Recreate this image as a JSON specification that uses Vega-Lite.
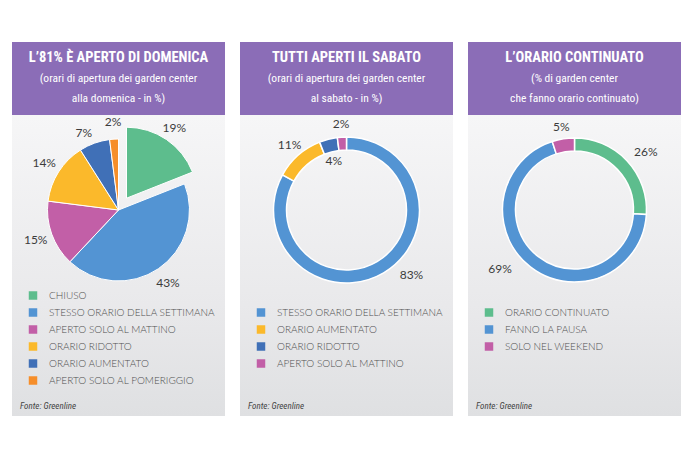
{
  "$schema": "https://vega.github.io/schema/vega-lite/v6.json",
  "padding": {"left": 12, "top": 42, "right": 0, "bottom": 0},
  "background": "white",
  "spacing": 15,
  "config": {"view": {"stroke": null}, "font": "Lato"},
  "resolve": {"scale": {"color": "independent"}},
  "datasets": {
    "titoli_domenica": [
      {"riga": 1, "testo": "L’81% È APERTO DI DOMENICA"},
      {"riga": 2, "testo": "(orari di apertura dei garden center"},
      {"riga": 3, "testo": "alla domenica - in %)"}
    ],
    "titoli_sabato": [
      {"riga": 1, "testo": "TUTTI APERTI IL SABATO"},
      {"riga": 2, "testo": "(orari di apertura dei garden center"},
      {"riga": 3, "testo": "al sabato - in %)"}
    ],
    "titoli_continuato": [
      {"riga": 1, "testo": "L’ORARIO CONTINUATO"},
      {"riga": 2, "testo": "(% di garden center"},
      {"riga": 3, "testo": "che fanno orario continuato)"}
    ],
    "domenica": [
      {"voce": "CHIUSO", "quota": 0.19},
      {"voce": "STESSO ORARIO DELLA SETTIMANA", "quota": 0.43},
      {"voce": "APERTO SOLO AL MATTINO", "quota": 0.15},
      {"voce": "ORARIO RIDOTTO", "quota": 0.14},
      {"voce": "ORARIO AUMENTATO", "quota": 0.07},
      {"voce": "APERTO SOLO AL POMERIGGIO", "quota": 0.02}
    ],
    "sabato": [
      {"voce": "STESSO ORARIO DELLA SETTIMANA", "quota": 0.83},
      {"voce": "ORARIO AUMENTATO", "quota": 0.11},
      {"voce": "ORARIO RIDOTTO", "quota": 0.04},
      {"voce": "APERTO SOLO AL MATTINO", "quota": 0.02}
    ],
    "continuato": [
      {"voce": "ORARIO CONTINUATO", "quota": 0.26},
      {"voce": "FANNO LA PAUSA", "quota": 0.69},
      {"voce": "SOLO NEL WEEKEND", "quota": 0.05}
    ],
    "sfondo": [{}]
  },
  "hconcat": [
    {
      "spacing": 0,
      "bounds": "flush",
      "vconcat": [
        {
          "width": 213, "height": 73,
          "view": {"fill": "#8b6db7", "stroke": null},
          "data": {"name": "titoli_domenica"},
          "layer": [
            {"transform": [{"filter": "datum.riga === 1"}],
             "mark": {"type": "text", "font": "Roboto Condensed, Liberation Sans Narrow, DejaVu Sans Condensed, Open Sans", "fontSize": 14.5, "fontWeight": "bold", "color": "white", "baseline": "middle"},
             "encoding": {"y": {"field": "riga", "type": "ordinal", "scale": {"type": "point", "padding": 0.74}, "axis": null}, "text": {"field": "testo"}}},
            {"transform": [{"filter": "datum.riga > 1"}],
             "mark": {"type": "text", "font": "Roboto Condensed, Liberation Sans Narrow, DejaVu Sans Condensed, Open Sans", "fontSize": 11.5, "color": "white", "baseline": "middle"},
             "encoding": {"y": {"field": "riga", "type": "ordinal", "scale": {"type": "point", "padding": 0.74}, "axis": null}, "text": {"field": "testo"}}}
          ]
        },
        {
          "width": 213, "height": 190,
          "layer": [
            {"data": {"name": "sfondo"},
             "mark": {"type": "rect", "fill": {"gradient": "linear", "x1": 0, "y1": 0, "x2": 0, "y2": 1, "stops": [{"offset": 0, "color": "#f6f6f7"}, {"offset": 1, "color": "#e9e9eb"}]}},
             "encoding": {}},
            {"data": {"name": "domenica"},
             "transform": [{"window": [{"op": "row_number", "as": "ordine"}]}],
             "mark": {"type": "arc", "outerRadius": 71, "stroke": "white", "strokeWidth": 1},
             "encoding": {
               "theta": {"field": "quota", "type": "quantitative", "stack": true},
               "order": {"field": "ordine", "type": "quantitative"},
               "opacity": {"condition": {"test": "datum.voce === 'CHIUSO'", "value": 0}, "value": 1},
               "color": {"field": "voce", "type": "nominal",
                 "scale": {"domain": ["CHIUSO", "STESSO ORARIO DELLA SETTIMANA", "APERTO SOLO AL MATTINO", "ORARIO RIDOTTO", "ORARIO AUMENTATO", "APERTO SOLO AL POMERIGGIO"], "range": ["#5dbd8d", "#5394d3", "#c25fa7", "#fbb92b", "#4070b7", "#f68e2a"]},
                 "legend": {"orient": "none", "legendX": 16, "legendY": 248.5, "title": null, "symbolType": "square", "symbolSize": 72, "symbolStrokeWidth": 0, "symbolOpacity": 1, "labelFont": "Lato", "labelFontSize": 10, "labelFontWeight": 300, "labelColor": "#505050", "rowPadding": 7, "labelOffset": 11, "padding": 0, "labelLimit": 300}}
             }},
            {"data": {"name": "domenica"},
             "transform": [{"window": [{"op": "row_number", "as": "ordine"}]}, {"filter": "datum.voce === 'CHIUSO'"}],
             "mark": {"type": "arc", "outerRadius": 71, "stroke": "white", "strokeWidth": 1, "xOffset": 8, "yOffset": -11.8},
             "encoding": {
               "theta": {"field": "quota", "type": "quantitative", "stack": true},
               "order": {"field": "ordine", "type": "quantitative"},
               "color": {"field": "voce", "type": "nominal",
                 "scale": {"domain": ["CHIUSO", "STESSO ORARIO DELLA SETTIMANA", "APERTO SOLO AL MATTINO", "ORARIO RIDOTTO", "ORARIO AUMENTATO", "APERTO SOLO AL POMERIGGIO"], "range": ["#5dbd8d", "#5394d3", "#c25fa7", "#fbb92b", "#4070b7", "#f68e2a"]},
                 "legend": {"orient": "none", "legendX": 16, "legendY": 248.5, "title": null, "symbolType": "square", "symbolSize": 72, "symbolStrokeWidth": 0, "symbolOpacity": 1, "labelFont": "Lato", "labelFontSize": 10, "labelFontWeight": 300, "labelColor": "#505050", "rowPadding": 7, "labelOffset": 11, "padding": 0, "labelLimit": 300}}
             }},
            {"data": {"name": "domenica"},
             "transform": [{"window": [{"op": "row_number", "as": "ordine"}]}],
             "mark": {"type": "text", "radius": 88, "font": "Lato", "fontSize": 12, "color": "#3c3c3c"},
             "encoding": {
               "theta": {"field": "quota", "type": "quantitative", "stack": true},
               "order": {"field": "ordine", "type": "quantitative"},
               "text": {"condition": {"test": "datum.voce === 'CHIUSO' || datum.voce === 'ORARIO AUMENTATO'", "value": ""}, "field": "quota", "type": "quantitative", "format": ".0%"}
             }},
            {"data": {"name": "domenica"},
             "transform": [{"window": [{"op": "row_number", "as": "ordine"}]}],
             "mark": {"type": "text", "radius": 84, "thetaOffset": -0.08, "font": "Lato", "fontSize": 12, "color": "#3c3c3c"},
             "encoding": {
               "theta": {"field": "quota", "type": "quantitative", "stack": true},
               "order": {"field": "ordine", "type": "quantitative"},
               "text": {"condition": {"test": "datum.voce !== 'ORARIO AUMENTATO'", "value": ""}, "field": "quota", "type": "quantitative", "format": ".0%"}
             }},
            {"data": {"name": "domenica"},
             "transform": [{"window": [{"op": "row_number", "as": "ordine"}]}, {"filter": "datum.voce === 'CHIUSO'"}],
             "mark": {"type": "text", "radius": 85, "font": "Lato", "fontSize": 12, "color": "#3c3c3c", "xOffset": 8, "yOffset": -11.8},
             "encoding": {
               "theta": {"field": "quota", "type": "quantitative", "stack": true},
               "order": {"field": "ordine", "type": "quantitative"},
               "text": {"field": "quota", "type": "quantitative", "format": ".0%"}
             }}
          ]
        },
        {
          "width": 213, "height": 111,
          "data": {"name": "sfondo"},
          "mark": {"type": "rect", "fill": {"gradient": "linear", "x1": 0, "y1": 0, "x2": 0, "y2": 1, "stops": [{"offset": 0, "color": "#e9e9eb"}, {"offset": 1, "color": "#dfe0e2"}]}},
          "encoding": {},
          "title": {"text": "Fonte: Greenline", "orient": "bottom", "anchor": "start", "offset": -5, "dx": 8, "baseline": "bottom", "font": "Roboto Condensed, Liberation Sans Narrow, DejaVu Sans Condensed, Open Sans", "fontSize": 9, "fontStyle": "italic", "fontWeight": "normal", "color": "#444444"}
        }
      ]
    },
    {
      "spacing": 0,
      "bounds": "flush",
      "vconcat": [
        {
          "width": 213, "height": 73,
          "view": {"fill": "#8b6db7", "stroke": null},
          "data": {"name": "titoli_sabato"},
          "layer": [
            {"transform": [{"filter": "datum.riga === 1"}],
             "mark": {"type": "text", "font": "Roboto Condensed, Liberation Sans Narrow, DejaVu Sans Condensed, Open Sans", "fontSize": 14.5, "fontWeight": "bold", "color": "white", "baseline": "middle"},
             "encoding": {"y": {"field": "riga", "type": "ordinal", "scale": {"type": "point", "padding": 0.74}, "axis": null}, "text": {"field": "testo"}}},
            {"transform": [{"filter": "datum.riga > 1"}],
             "mark": {"type": "text", "font": "Roboto Condensed, Liberation Sans Narrow, DejaVu Sans Condensed, Open Sans", "fontSize": 11.5, "color": "white", "baseline": "middle"},
             "encoding": {"y": {"field": "riga", "type": "ordinal", "scale": {"type": "point", "padding": 0.74}, "axis": null}, "text": {"field": "testo"}}}
          ]
        },
        {
          "width": 213, "height": 190,
          "layer": [
            {"data": {"name": "sfondo"},
             "mark": {"type": "rect", "fill": {"gradient": "linear", "x1": 0, "y1": 0, "x2": 0, "y2": 1, "stops": [{"offset": 0, "color": "#f6f6f7"}, {"offset": 1, "color": "#e9e9eb"}]}},
             "encoding": {}},
            {"data": {"name": "sabato"},
             "transform": [{"window": [{"op": "row_number", "as": "ordine"}]}],
             "mark": {"type": "arc", "innerRadius": 60, "outerRadius": 73, "stroke": "white", "strokeWidth": 1.5},
             "encoding": {
               "theta": {"field": "quota", "type": "quantitative", "stack": true},
               "order": {"field": "ordine", "type": "quantitative"},
               "color": {"field": "voce", "type": "nominal",
                 "scale": {"domain": ["STESSO ORARIO DELLA SETTIMANA", "ORARIO AUMENTATO", "ORARIO RIDOTTO", "APERTO SOLO AL MATTINO"], "range": ["#5394d3", "#fbb92b", "#4070b7", "#c25fa7"]},
                 "legend": {"orient": "none", "legendX": 16, "legendY": 265.5, "title": null, "symbolType": "square", "symbolSize": 72, "symbolStrokeWidth": 0, "labelFont": "Lato", "labelFontSize": 10, "labelFontWeight": 300, "labelColor": "#505050", "rowPadding": 7, "labelOffset": 11, "padding": 0, "labelLimit": 300}}
             }},
            {"data": {"name": "sabato"},
             "transform": [{"window": [{"op": "row_number", "as": "ordine"}]}],
             "mark": {"type": "text", "radius": 86, "font": "Lato", "fontSize": 12, "color": "#3c3c3c"},
             "encoding": {
               "theta": {"field": "quota", "type": "quantitative", "stack": true},
               "order": {"field": "ordine", "type": "quantitative"},
               "text": {"condition": {"test": "datum.voce === 'ORARIO RIDOTTO' || datum.voce === 'STESSO ORARIO DELLA SETTIMANA'", "value": ""}, "field": "quota", "type": "quantitative", "format": ".0%"}
             }},
            {"data": {"name": "sabato"},
             "transform": [{"window": [{"op": "row_number", "as": "ordine"}]}],
             "mark": {"type": "text", "radius": 51, "font": "Lato", "fontSize": 12, "color": "#3c3c3c"},
             "encoding": {
               "theta": {"field": "quota", "type": "quantitative", "stack": true},
               "order": {"field": "ordine", "type": "quantitative"},
               "text": {"condition": {"test": "datum.voce !== 'ORARIO RIDOTTO'", "value": ""}, "field": "quota", "type": "quantitative", "format": ".0%"}
             }},
            {"data": {"name": "sabato"},
             "transform": [{"window": [{"op": "row_number", "as": "ordine"}]}],
             "mark": {"type": "text", "radius": 92, "thetaOffset": -0.25, "font": "Lato", "fontSize": 12, "color": "#3c3c3c"},
             "encoding": {
               "theta": {"field": "quota", "type": "quantitative", "stack": true},
               "order": {"field": "ordine", "type": "quantitative"},
               "text": {"condition": {"test": "datum.voce !== 'STESSO ORARIO DELLA SETTIMANA'", "value": ""}, "field": "quota", "type": "quantitative", "format": ".0%"}
             }}
          ]
        },
        {
          "width": 213, "height": 111,
          "data": {"name": "sfondo"},
          "mark": {"type": "rect", "fill": {"gradient": "linear", "x1": 0, "y1": 0, "x2": 0, "y2": 1, "stops": [{"offset": 0, "color": "#e9e9eb"}, {"offset": 1, "color": "#dfe0e2"}]}},
          "encoding": {},
          "title": {"text": "Fonte: Greenline", "orient": "bottom", "anchor": "start", "offset": -5, "dx": 8, "baseline": "bottom", "font": "Roboto Condensed, Liberation Sans Narrow, DejaVu Sans Condensed, Open Sans", "fontSize": 9, "fontStyle": "italic", "fontWeight": "normal", "color": "#444444"}
        }
      ]
    },
    {
      "spacing": 0,
      "bounds": "flush",
      "vconcat": [
        {
          "width": 213, "height": 73,
          "view": {"fill": "#8b6db7", "stroke": null},
          "data": {"name": "titoli_continuato"},
          "layer": [
            {"transform": [{"filter": "datum.riga === 1"}],
             "mark": {"type": "text", "font": "Roboto Condensed, Liberation Sans Narrow, DejaVu Sans Condensed, Open Sans", "fontSize": 14.5, "fontWeight": "bold", "color": "white", "baseline": "middle"},
             "encoding": {"y": {"field": "riga", "type": "ordinal", "scale": {"type": "point", "padding": 0.74}, "axis": null}, "text": {"field": "testo"}}},
            {"transform": [{"filter": "datum.riga > 1"}],
             "mark": {"type": "text", "font": "Roboto Condensed, Liberation Sans Narrow, DejaVu Sans Condensed, Open Sans", "fontSize": 11.5, "color": "white", "baseline": "middle"},
             "encoding": {"y": {"field": "riga", "type": "ordinal", "scale": {"type": "point", "padding": 0.74}, "axis": null}, "text": {"field": "testo"}}}
          ]
        },
        {
          "width": 213, "height": 190,
          "layer": [
            {"data": {"name": "sfondo"},
             "mark": {"type": "rect", "fill": {"gradient": "linear", "x1": 0, "y1": 0, "x2": 0, "y2": 1, "stops": [{"offset": 0, "color": "#f6f6f7"}, {"offset": 1, "color": "#e9e9eb"}]}},
             "encoding": {}},
            {"data": {"name": "continuato"},
             "transform": [{"window": [{"op": "row_number", "as": "ordine"}]}],
             "mark": {"type": "arc", "innerRadius": 59, "outerRadius": 72, "stroke": "white", "strokeWidth": 1.5},
             "encoding": {
               "theta": {"field": "quota", "type": "quantitative", "stack": true},
               "order": {"field": "ordine", "type": "quantitative"},
               "color": {"field": "voce", "type": "nominal",
                 "scale": {"domain": ["ORARIO CONTINUATO", "FANNO LA PAUSA", "SOLO NEL WEEKEND"], "range": ["#5dbd8d", "#5394d3", "#c25fa7"]},
                 "legend": {"orient": "none", "legendX": 16, "legendY": 265.5, "title": null, "symbolType": "square", "symbolSize": 72, "symbolStrokeWidth": 0, "labelFont": "Lato", "labelFontSize": 10, "labelFontWeight": 300, "labelColor": "#505050", "rowPadding": 7, "labelOffset": 11, "padding": 0, "labelLimit": 300}}
             }},
            {"data": {"name": "continuato"},
             "transform": [{"window": [{"op": "row_number", "as": "ordine"}]}],
             "mark": {"type": "text", "radius": 84, "font": "Lato", "fontSize": 12, "color": "#3c3c3c"},
             "encoding": {
               "theta": {"field": "quota", "type": "quantitative", "stack": true},
               "order": {"field": "ordine", "type": "quantitative"},
               "text": {"condition": {"test": "datum.voce !== 'SOLO NEL WEEKEND'", "value": ""}, "field": "quota", "type": "quantitative", "format": ".0%"}
             }},
            {"data": {"name": "continuato"},
             "transform": [{"window": [{"op": "row_number", "as": "ordine"}]}],
             "mark": {"type": "text", "radius": 92, "thetaOffset": 0.07, "font": "Lato", "fontSize": 12, "color": "#3c3c3c"},
             "encoding": {
               "theta": {"field": "quota", "type": "quantitative", "stack": true},
               "order": {"field": "ordine", "type": "quantitative"},
               "text": {"condition": {"test": "datum.voce !== 'ORARIO CONTINUATO'", "value": ""}, "field": "quota", "type": "quantitative", "format": ".0%"}
             }},
            {"data": {"name": "continuato"},
             "transform": [{"window": [{"op": "row_number", "as": "ordine"}]}],
             "mark": {"type": "text", "radius": 95, "thetaOffset": 0.24, "font": "Lato", "fontSize": 12, "color": "#3c3c3c"},
             "encoding": {
               "theta": {"field": "quota", "type": "quantitative", "stack": true},
               "order": {"field": "ordine", "type": "quantitative"},
               "text": {"condition": {"test": "datum.voce !== 'FANNO LA PAUSA'", "value": ""}, "field": "quota", "type": "quantitative", "format": ".0%"}
             }}
          ]
        },
        {
          "width": 213, "height": 111,
          "data": {"name": "sfondo"},
          "mark": {"type": "rect", "fill": {"gradient": "linear", "x1": 0, "y1": 0, "x2": 0, "y2": 1, "stops": [{"offset": 0, "color": "#e9e9eb"}, {"offset": 1, "color": "#dfe0e2"}]}},
          "encoding": {},
          "title": {"text": "Fonte: Greenline", "orient": "bottom", "anchor": "start", "offset": -5, "dx": 8, "baseline": "bottom", "font": "Roboto Condensed, Liberation Sans Narrow, DejaVu Sans Condensed, Open Sans", "fontSize": 9, "fontStyle": "italic", "fontWeight": "normal", "color": "#444444"}
        }
      ]
    }
  ]
}
